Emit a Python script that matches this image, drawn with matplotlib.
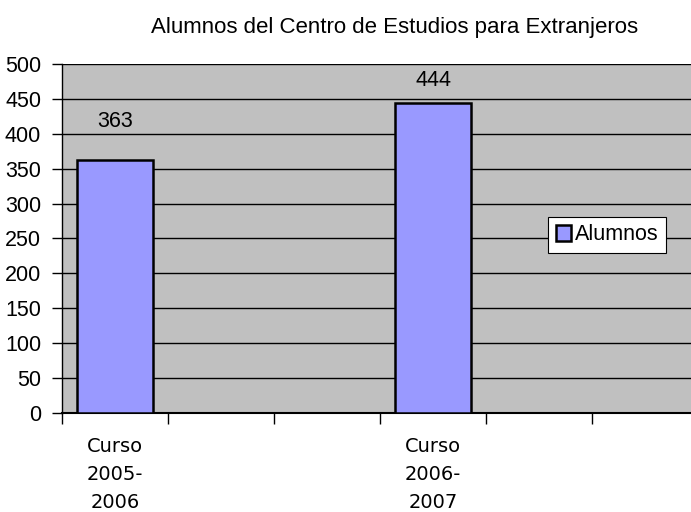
import matplotlib
matplotlib.use("Agg")
import matplotlib.pyplot as plt
import numpy as np

# data
categories = ["Curso\n2005-\n2006", "", "", "Curso\n2006-\n2007", "", ""]
alumnos = [363, np.nan, np.nan, 444, np.nan, np.nan]
series_name = "Alumnos"
title = "Alumnos del Centro de Estudios para Extranjeros"
y_ticks = [0, 50, 100, 150, 200, 250, 300, 350, 400, 450, 500]

# label offsets (points above bar top)
label_offsets = [20, 9]

plt.rcParams["font.family"] = ["Liberation Sans", "DejaVu Sans"]

fig = plt.figure(figsize=(6.91, 5.12), dpi=100)
ax = fig.add_axes([62 / 691, 1 - 413 / 512, 636 / 691, 349 / 512])
ax.set_facecolor("#C0C0C0")

x = np.arange(len(categories))
bars = ax.bar(x, alumnos, width=0.72, color="#9999FF", edgecolor="black",
              linewidth=1.8, label=series_name, zorder=3)

ax.set_xlim(-0.5, len(categories) - 0.5)
ax.set_ylim(0, 500)
ax.set_yticks(y_ticks)
ax.tick_params(axis="y", labelsize=15.5, length=7, width=1, direction="out", pad=8)
ax.yaxis.grid(True, color="black", linewidth=1, zorder=1)
ax.set_axisbelow(True)

# x ticks at category boundaries, labels centred on categories
ax.set_xticks(np.arange(len(categories) + 1) - 0.5)
ax.set_xticklabels([])
ax.set_xticks(x, minor=True)
ax.set_xticklabels(categories, minor=True, fontsize=14, family="DejaVu Sans",
                   linespacing=1.62)
ax.tick_params(axis="x", which="major", length=8, width=1, direction="out")
ax.tick_params(axis="x", which="minor", length=0, pad=17)

for s in ["top", "right"]:
    ax.spines[s].set_visible(False)
ax.spines["left"].set_linewidth(1)
ax.spines["bottom"].set_linewidth(1.5)

heights = [v for v in alumnos if not np.isnan(v)]
pos = [i for i, v in enumerate(alumnos) if not np.isnan(v)]
for i, v, off in zip(pos, heights, label_offsets):
    ax.annotate(f"{int(v)}", (i, v), xytext=(0, off), textcoords="offset points",
                ha="center", va="bottom", fontsize=15.5)

fig.text(395 / 691, 1 - 27 / 512, title, ha="center", va="center", fontsize=16)

leg = ax.legend(loc="center", bbox_to_anchor=(607 / 691, 1 - 235 / 512),
                bbox_transform=fig.transFigure, fontsize=15.5, frameon=True,
                fancybox=False, edgecolor="black", framealpha=1,
                handlelength=0.7, handleheight=0.7, handletextpad=0.2,
                borderpad=0.35, borderaxespad=0)
leg.get_frame().set_linewidth(0.8)

fig.savefig("out.png", dpi=100)
